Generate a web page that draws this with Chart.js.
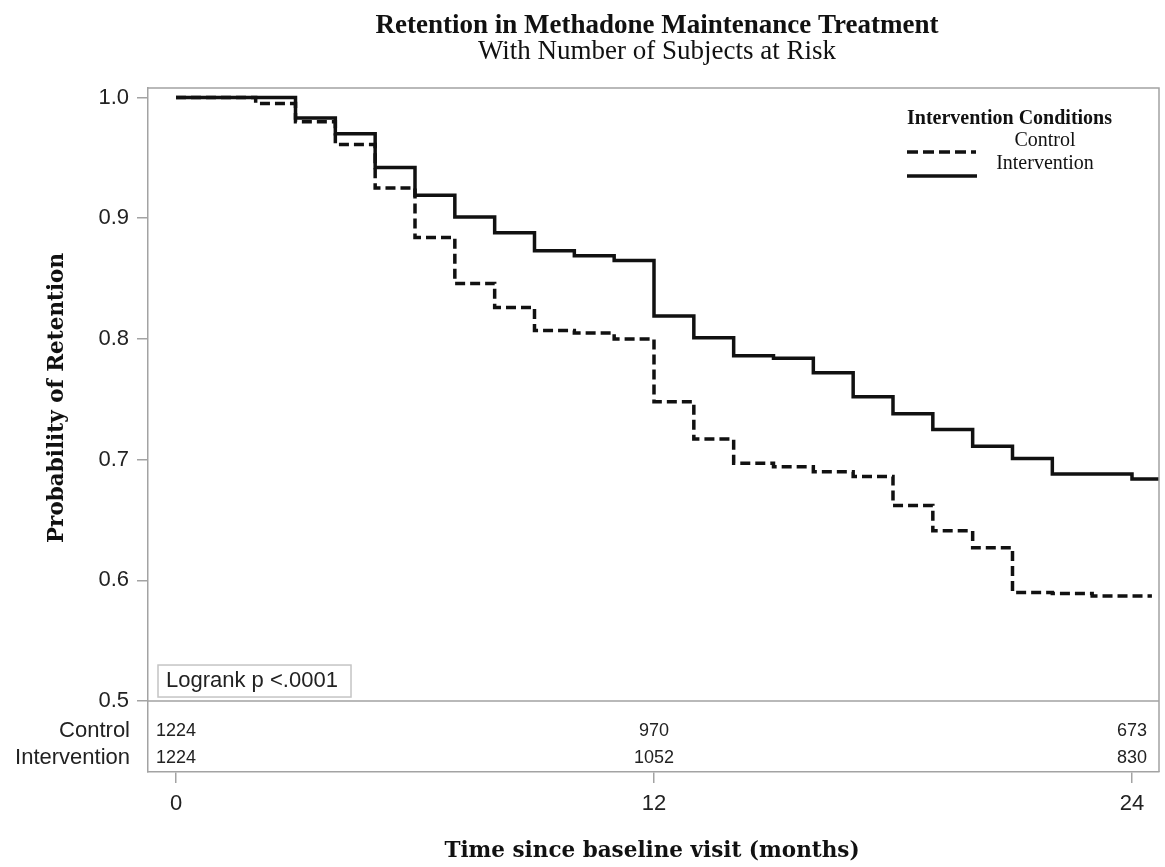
<!DOCTYPE html>
<html lang="en">
<head>
    <meta charset="UTF-8">
    <title>Retention in Methadone Maintenance Treatment</title>
    <style>
        html, body {
            margin: 0;
            padding: 0;
            background: #ffffff;
        }
        .chart-container {
            position: relative;
            width: 1165px;
            height: 867px;
        }
    </style>
    <script src="https://cdn.jsdelivr.net/npm/chart.js"></script>
</head>
<body>
    <div class="chart-container">
        <canvas id="km"></canvas>
    </div>
    <script>
        // Kaplan-Meier steps (month of drop, survival after drop);
        // the last entry is the end of follow-up
        const controlMonths = [0, 2, 3, 4, 5, 6, 7, 8, 9, 10, 11, 12, 13, 14, 15, 16, 17, 18, 19, 20, 21, 22, 23, 24.5];
        const controlSurv = [1.0, 0.995, 0.980, 0.961, 0.925, 0.884, 0.846, 0.826, 0.807, 0.805, 0.800, 0.748, 0.717, 0.697, 0.694, 0.690, 0.686, 0.662, 0.641, 0.627, 0.590, 0.589, 0.587, 0.587];

        const interventionMonths = [0, 3, 4, 5, 6, 7, 8, 9, 10, 11, 12, 13, 14, 15, 16, 17, 18, 19, 20, 21, 22, 24, 24.7];
        const interventionSurv = [1.0, 0.983, 0.970, 0.942, 0.919, 0.901, 0.888, 0.873, 0.869, 0.865, 0.819, 0.801, 0.786, 0.784, 0.772, 0.752, 0.738, 0.725, 0.711, 0.701, 0.688, 0.684, 0.684];

        // number at risk table
        const riskGroups = ['Control', 'Intervention'];
        const riskMonths = [0, 12, 24];
        const controlAtRisk = [1224, 970, 673];
        const interventionAtRisk = [1224, 1052, 830];

        const xTicks = [0, 12, 24];
        const yTicks = [0.5, 0.6, 0.7, 0.8, 0.9, 1.0];

        const frameColor = '#a3a3a3';
        const sans = 'Liberation Sans, Arial, sans-serif';
        const times = 'Liberation Serif, Times New Roman, serif';
        const slab = 'DejaVu Serif, serif';

        function toPoints(months, surv) {
            return months.map((m, i) => ({ x: m, y: surv[i] }));
        }

        const decor = {
            id: 'kmDecor',
            afterDraw(chart) {
                const ctx = chart.ctx;
                const area = chart.chartArea;
                const xs = chart.scales.x;
                const ys = chart.scales.y;
                ctx.save();

                // top/right frame and the 0.5 separator above the risk table
                ctx.strokeStyle = frameColor;
                ctx.lineWidth = 1.5;
                ctx.beginPath();
                ctx.moveTo(area.left, area.top);
                ctx.lineTo(area.right, area.top);
                ctx.lineTo(area.right, area.bottom);
                const yHalf = ys.getPixelForValue(0.5);
                ctx.moveTo(area.left, yHalf);
                ctx.lineTo(area.right, yHalf);
                ctx.stroke();

                // titles
                ctx.fillStyle = '#111';
                ctx.textAlign = 'center';
                ctx.textBaseline = 'alphabetic';
                ctx.font = 'bold 27px ' + times;
                ctx.fillText('Retention in Methadone Maintenance Treatment', 657, 33);
                ctx.font = '27px ' + times;
                ctx.fillText('With Number of Subjects at Risk', 657, 59);

                // axis titles
                ctx.font = 'bold 21.5px ' + slab;
                ctx.fillText('Time since baseline visit (months)', 652, 857);
                ctx.save();
                ctx.translate(63, 398);
                ctx.rotate(-Math.PI / 2);
                ctx.fillText('Probability of Retention', 0, 0);
                ctx.restore();

                // legend
                ctx.textAlign = 'left';
                ctx.font = 'bold 20px ' + times;
                ctx.fillText('Intervention Conditions', 907, 124);
                ctx.textAlign = 'center';
                ctx.font = '20px ' + times;
                ctx.fillText('Control', 1045, 146);
                ctx.fillText('Intervention', 1045, 169);
                ctx.strokeStyle = '#111';
                ctx.lineWidth = 3.5;
                ctx.setLineDash([11, 5]);
                ctx.beginPath();
                ctx.moveTo(907, 152);
                ctx.lineTo(976, 152);
                ctx.stroke();
                ctx.setLineDash([]);
                ctx.beginPath();
                ctx.moveTo(907, 176);
                ctx.lineTo(977, 176);
                ctx.stroke();

                // logrank box
                ctx.strokeStyle = '#c4c4c4';
                ctx.lineWidth = 1.5;
                ctx.strokeRect(area.left + 10, yHalf - 36, 193, 32);
                ctx.fillStyle = '#222';
                ctx.textAlign = 'left';
                ctx.textBaseline = 'middle';
                ctx.font = '22px ' + sans;
                ctx.fillText('Logrank p <.0001', area.left + 18, yHalf - 20);

                // number at risk
                const rows = [controlAtRisk, interventionAtRisk];
                const rowY = [731, 758];
                rows.forEach((counts, r) => {
                    ctx.textAlign = 'right';
                    ctx.font = '22px ' + sans;
                    ctx.fillText(riskGroups[r], area.left - 18, rowY[r]);
                    ctx.textAlign = 'center';
                    ctx.font = '18px ' + sans;
                    counts.forEach((n, i) => {
                        ctx.fillText(String(n), xs.getPixelForValue(riskMonths[i]), rowY[r]);
                    });
                });

                ctx.restore();
            }
        };

        new Chart(document.getElementById('km'), {
            type: 'line',
            data: {
                datasets: [{
                    label: 'Control',
                    data: toPoints(controlMonths, controlSurv),
                    borderColor: '#111',
                    borderWidth: 3.5,
                    borderDash: [10, 5],
                    stepped: true,
                    pointRadius: 0,
                    fill: false
                }, {
                    label: 'Intervention',
                    data: toPoints(interventionMonths, interventionSurv),
                    borderColor: '#111',
                    borderWidth: 3.5,
                    stepped: true,
                    pointRadius: 0,
                    fill: false
                }]
            },
            options: {
                responsive: true,
                maintainAspectRatio: false,
                animation: false,
                layout: {
                    padding: { top: 88, right: 6, left: 0, bottom: 0 }
                },
                plugins: {
                    legend: { display: false },
                    tooltip: { enabled: false }
                },
                scales: {
                    x: {
                        type: 'linear',
                        min: -0.703,
                        max: 24.678,
                        afterBuildTicks: s => { s.ticks = xTicks.map(v => ({ value: v })); },
                        afterFit: s => { s.height = 95; },
                        grid: { drawOnChartArea: false, tickLength: 11, color: frameColor, lineWidth: 1.5 },
                        border: { color: frameColor, width: 1.5 },
                        ticks: {
                            autoSkip: false,
                            maxRotation: 0,
                            padding: 8,
                            color: '#222',
                            font: { family: sans, size: 22 }
                        }
                    },
                    y: {
                        type: 'linear',
                        min: 0.4412,
                        max: 1.0079,
                        afterBuildTicks: s => { s.ticks = yTicks.map(v => ({ value: v })); },
                        afterFit: s => { s.width = 148; },
                        grid: { drawOnChartArea: false, tickLength: 11, color: frameColor, lineWidth: 1.5 },
                        border: { color: frameColor, width: 1.5 },
                        ticks: {
                            padding: 8,
                            color: '#222',
                            font: { family: sans, size: 22 },
                            callback: v => v.toFixed(1)
                        }
                    }
                }
            },
            plugins: [decor]
        });
    </script>
</body>
</html>
